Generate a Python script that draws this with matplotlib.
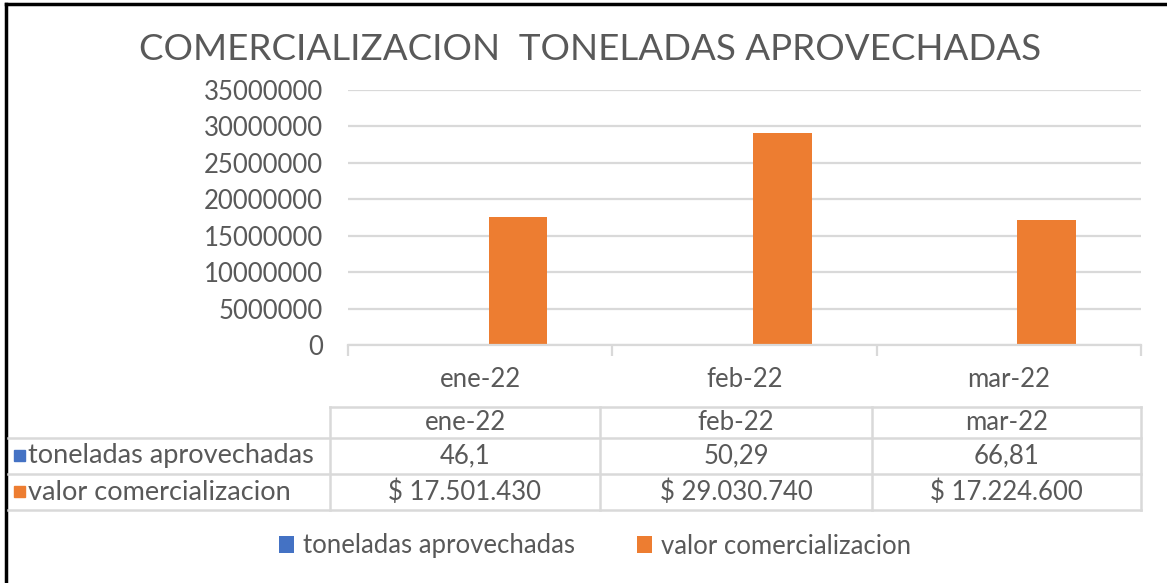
import numpy as np
import matplotlib
matplotlib.use("Agg")
import matplotlib.pyplot as plt
from matplotlib.patches import Rectangle

# data
meses = ["ene-22", "feb-22", "mar-22"]
toneladas = [46.1, 50.29, 66.81]
valor = [17501430, 29030740, 17224600]
toneladas_txt = ["46,1", "50,29", "66,81"]
valor_txt = ["$ 17.501.430", "$ 29.030.740", "$ 17.224.600"]
series_names = ["toneladas aprovechadas", "valor comercializacion"]
yticks = [0, 5000000, 10000000, 15000000, 20000000, 25000000, 30000000, 35000000]

BLUE = "#4472C4"
ORANGE = "#ED7D31"
TXT = "#595959"
GRID = "#D9D9D9"
FONT = "Lato"
FS = 18.5

W, H = 1167, 583
fig = plt.figure(figsize=(W / 100, H / 100), dpi=100)
plt.rcParams["font.family"] = FONT

# plot area
ax = fig.add_axes([348 / W, 1 - 345 / H, (1141 - 348) / W, (345 - 90) / H])
x = np.arange(len(meses))
off, bw = 0.1434, 0.2226
b1 = ax.bar(x - off, toneladas, bw, color=BLUE, label=series_names[0])
b2 = ax.bar(x + off, valor, bw, color=ORANGE, label=series_names[1])
ax.set_xlim(-0.5, len(meses) - 0.5)
ax.set_ylim(0, 35000000)
ax.set_yticks(yticks)
ax.set_yticklabels([str(v) for v in yticks])
ax.grid(axis="y", color=GRID, lw=1.6)
ax.set_axisbelow(True)
for s in ["top", "right", "left"]:
    ax.spines[s].set_visible(False)
ax.spines["bottom"].set_color(GRID)
ax.spines["bottom"].set_linewidth(1.6)
ax.tick_params(axis="y", length=0, pad=18, labelsize=FS, labelcolor=TXT)
ax.set_xticks(np.arange(len(meses) + 1) - 0.5)
ax.set_xticklabels([])
ax.set_xticks(x, minor=True)
ax.set_xticklabels(meses, minor=True)
ax.tick_params(axis="x", which="major", length=8, width=1.6, color=GRID)
ax.tick_params(axis="x", which="minor", length=0, pad=16, labelsize=FS, labelcolor=TXT)

# overlay in pixel coords for title, table, frame
ov = fig.add_axes([0, 0, 1, 1], zorder=-1)
ov.set_xlim(0, W)
ov.set_ylim(H, 0)
ov.axis("off")

ov.text(590, 50, "COMERCIALIZACION  TONELADAS APROVECHADAS", ha="center",
        va="center", fontsize=26.5, color=TXT)

# frame
ov.plot([6, 6], [4, H], color="black", lw=2.5)
ov.plot([6, W], [4, 4], color="black", lw=2.5)

# data table
cols = [8, 330, 600, 872, 1141]
rows = [407, 438, 474, 510]
lc = dict(color=GRID, lw=1.8)
ov.plot([cols[1], cols[-1]], [rows[0], rows[0]], **lc)
for r in rows[1:]:
    ov.plot([cols[0], cols[-1]], [r, r], **lc)
ov.plot([cols[1], cols[1]], [rows[0], rows[-1]], **lc)
for c in cols[2:]:
    ov.plot([c, c], [rows[0], rows[-1]], **lc)

cells = [meses, toneladas_txt, valor_txt]
for i, row in enumerate(cells):
    yc = (rows[i] + rows[i + 1]) / 2
    for j, t in enumerate(row):
        xc = (cols[j + 1] + cols[j + 2]) / 2
        ov.text(xc, yc, t, ha="center", va="center", fontsize=FS, color=TXT)

for k, (name, col) in enumerate(zip(series_names, [BLUE, ORANGE])):
    yc = (rows[k + 1] + rows[k + 2]) / 2
    ov.add_patch(Rectangle((14, yc - 6), 11, 11, color=col))
    ov.text(28, yc, name, ha="left", va="center", fontsize=19.5, color=TXT)

# legend
fig.legend([b1, b2], series_names, loc="center", bbox_to_anchor=(595 / W, 1 - 546 / H),
           ncol=2, frameon=False, handlelength=0.6, handleheight=0.6,
           handletextpad=0.35, columnspacing=2.4, fontsize=FS, labelcolor=TXT)

fig.savefig("out.png", dpi=100)
